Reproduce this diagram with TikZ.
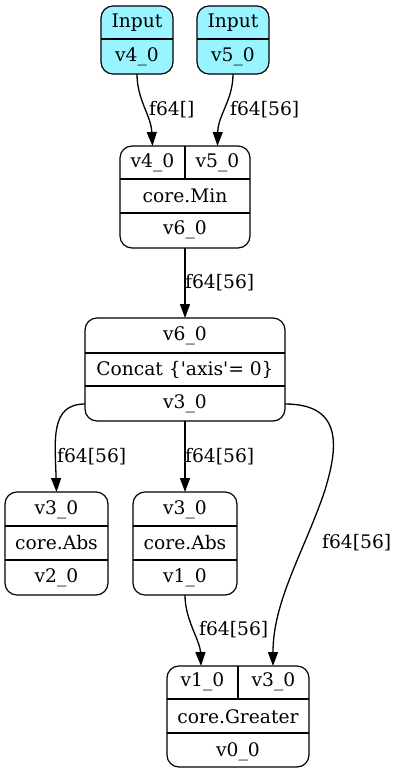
\documentclass[tikz,border=0pt]{standalone}
\usepackage{fontspec}
\setmainfont{DejaVu Serif}
\usetikzlibrary{arrows.meta,calc}
\definecolor{incyan}{HTML}{98F5FF}
\newcommand{\gvfont}{\fontsize{18.67}{22}\selectfont}
\begin{document}
\begin{tikzpicture}[x=1pt,y=-1pt,
  box/.style={draw, line width=1.2pt, rounded corners=12pt, outer sep=0pt, inner sep=0pt},
  txt/.style={inner sep=0pt, font=\gvfont},
  lbl/.style={inner sep=0pt, font=\gvfont, anchor=west},
  div/.style={line width=1.2pt},
  edge/.style={line width=1.3pt, -{Triangle[length=14pt,width=10pt]}}]
\useasboundingbox (0,0) rectangle (402,774);

% Input boxes
\node[box, fill=incyan, minimum width=72pt, minimum height=68pt] (in1) at (137,40) {};
\node[box, fill=incyan, minimum width=72pt, minimum height=68pt] (in2) at (233,40) {};
\draw[div] (in1.west |- 0,39) -- (in1.east |- 0,39);
\draw[div] (in2.west |- 0,39) -- (in2.east |- 0,39);
\node[txt] (in1a) at (137,23) {Input};
\node[txt] (in1b) at (137,57) {v4\_0};
\node[txt] (in2a) at (233,23) {Input};
\node[txt] (in2b) at (233,57) {v5\_0};

% Min box
\node[box, minimum width=130pt, minimum height=102pt] (mn) at (185,197) {};
\draw[div] (mn.west |- 0,179) -- (mn.east |- 0,179);
\draw[div] (mn.west |- 0,213) -- (mn.east |- 0,213);
\draw[div] (185,146) -- (185,179);
\node[txt] (mna) at (152.5,163) {v4\_0};
\node[txt] (mnb) at (217.5,163) {v5\_0};
\node[txt] (mnc) at (185,196) {core.Min};
\node[txt] (mnd) at (185,230) {v6\_0};
\coordinate (mnp1) at (152.5,146);
\coordinate (mnp2) at (217.5,146);

% Concat box
\node[box, minimum width=200pt, minimum height=103pt] (cc) at (185,369.5) {};
\draw[div] (cc.west |- 0,353) -- (cc.east |- 0,353);
\draw[div] (cc.west |- 0,386) -- (cc.east |- 0,386);
\node[txt] (cca) at (185,336) {v6\_0};
\node[txt] (ccb) at (185,370) {Concat \{\textquotesingle axis\textquotesingle = 0\}};
\node[txt] (ccc) at (185,404) {v3\_0};
\coordinate (ccw) at (85,404);
\coordinate (cce) at (285,404);

% Abs boxes
\node[box, minimum width=103pt, minimum height=103pt] (ab1) at (56.5,543.5) {};
\draw[div] (ab1.west |- 0,526) -- (ab1.east |- 0,526);
\draw[div] (ab1.west |- 0,560) -- (ab1.east |- 0,560);
\node[txt] (ab1a) at (56.5,510) {v3\_0};
\node[txt] (ab1b) at (56.5,543) {core.Abs};
\node[txt] (ab1c) at (56.5,578) {v2\_0};

\node[box, minimum width=104pt, minimum height=103pt] (ab2) at (185,543.5) {};
\draw[div] (ab2.west |- 0,526) -- (ab2.east |- 0,526);
\draw[div] (ab2.west |- 0,560) -- (ab2.east |- 0,560);
\node[txt] (ab2a) at (185,510) {v3\_0};
\node[txt] (ab2b) at (185,543) {core.Abs};
\node[txt] (ab2c) at (185,578) {v1\_0};

% Greater box
\node[box, minimum width=142pt, minimum height=101pt] (gr) at (238,716.5) {};
\draw[div] (gr.west |- 0,699) -- (gr.east |- 0,699);
\draw[div] (gr.west |- 0,733) -- (gr.east |- 0,733);
\draw[div] (238,666) -- (238,699);
\node[txt] (gra) at (202.5,682) {v1\_0};
\node[txt] (grb) at (273.5,682) {v3\_0};
\node[txt] (grc) at (238,717) {core.Greater};
\node[txt] (grd) at (238,752) {v0\_0};
\coordinate (grp1) at (201,666);
\coordinate (grp2) at (273,666);

% Edges
\draw[edge] (in1.south) .. controls (137,100) and (151,115) .. (mnp1);
\node[lbl] (l1) at (149,110) {f64[]};
\draw[edge] (in2.south) .. controls (233,100) and (218,115) .. (mnp2);
\node[lbl] (l2) at (230,110) {f64[56]};
\draw[edge] (mn.south) -- (cc.north);
\node[lbl] (l3) at (185,283) {f64[56]};
\draw[edge] (ccw) .. controls (50,404) and (55,440) .. (ab1.north);
\node[lbl] (l4) at (57,457) {f64[56]};
\draw[edge] (cc.south) -- (ab2.north);
\node[lbl] (l5) at (185,457) {f64[56]};
\draw[edge] (cce) .. controls (345,404) and (337,450) .. (325,490) .. controls (305,550) and (273,600) .. (grp2);
\node[lbl] (l6) at (322,543) {f64[56]};
\draw[edge] (ab2.south) .. controls (185,620) and (200,640) .. (grp1);
\node[lbl] (l7) at (199,630) {f64[56]};
\end{tikzpicture}
\end{document}
